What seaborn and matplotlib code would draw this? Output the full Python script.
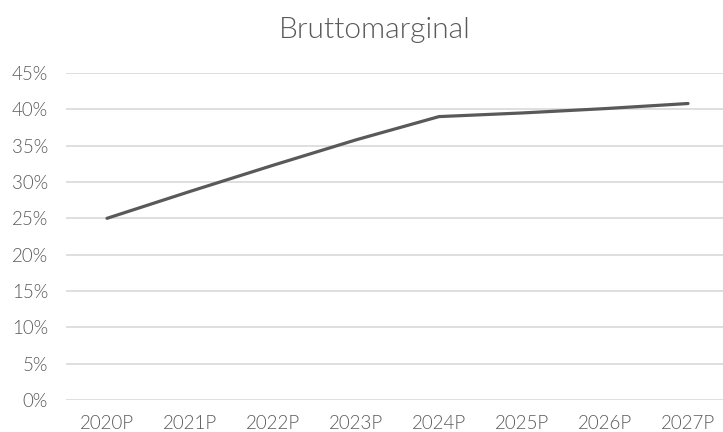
import matplotlib
matplotlib.use("Agg")
import matplotlib.pyplot as plt
import seaborn as sns
import pandas as pd
from matplotlib.ticker import PercentFormatter

# Data
years = ["2020P", "2021P", "2022P", "2023P", "2024P", "2025P", "2026P", "2027P"]
margin = [0.250, 0.287, 0.323, 0.358, 0.390, 0.395, 0.401, 0.408]

df = pd.DataFrame({"year": years, "margin": margin})

sns.set_style("white")
plt.rcParams["font.family"] = ["Lato", "DejaVu Sans"]

text_col = "#595959"

fig = plt.figure(figsize=(7.23, 4.32), dpi=100)
ax = fig.add_axes([65.5 / 723, 1 - 400 / 432, 664 / 723, 327 / 432])

sns.lineplot(data=df, x="year", y="margin", color="#595959", linewidth=2.3,
             sort=False, ax=ax)

ax.set_xlim(-0.5, len(years) - 0.5)
ax.set_ylim(0, 0.45)
ax.set_yticks([i * 0.05 for i in range(10)])
ax.yaxis.set_major_formatter(PercentFormatter(1.0, decimals=0))
ax.grid(axis="y", color="#d9d9d9", linewidth=1.2)
ax.set_axisbelow(True)
for s in ax.spines.values():
    s.set_visible(False)
ax.tick_params(axis="both", length=0, labelsize=13.5, colors=text_col)
ax.tick_params(axis="x", pad=11)
ax.tick_params(axis="y", pad=12.5)
for lab in ax.get_xticklabels() + ax.get_yticklabels():
    lab.set_fontweight(300)
ax.set_xlabel("")
ax.set_ylabel("")

fig.text(375 / 723, 1 - 30 / 432, "Bruttomarginal", ha="center", va="center",
         fontsize=21.5, color=text_col, fontweight=300)

fig.savefig("out.png", dpi=100)
